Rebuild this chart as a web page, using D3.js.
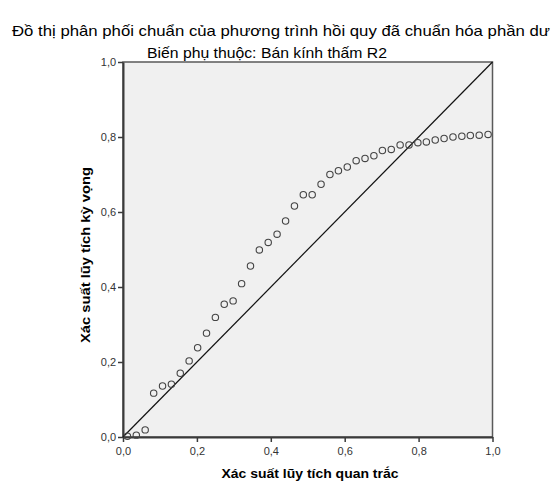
<!DOCTYPE html>
<html>
<head>
<meta charset="utf-8">
<script src="https://cdn.jsdelivr.net/npm/d3@7/dist/d3.min.js"></script>
<style>
  html, body { margin: 0; padding: 0; background: #fff; }
  svg { display: block; font-family: "Liberation Sans", Arial, sans-serif; }
</style>
</head>
<body>
<svg id="chart" width="552" height="482"></svg>
<script>
// Normal P-P plot of regression standardized residuals
const titleLines = [
  "Đồ thị phân phối chuẩn của phương trình hồi quy đã chuẩn hóa phần dư",
  "Biến phụ thuộc: Bán kính thấm R2"
];
const xTitle = "Xác suất lũy tích quan trắc";
const yTitle = "Xác suất lũy tích kỳ vọng";
const tickValues = [0, 0.2, 0.4, 0.6, 0.8, 1.0];

// Observed cumulative probability: (i - 0.5) / n for n = 42 cases
const observed = [
  0.012, 0.036, 0.060, 0.083, 0.107, 0.131, 0.155, 0.179, 0.202, 0.226,
  0.250, 0.274, 0.298, 0.321, 0.345, 0.369, 0.393, 0.417, 0.440, 0.464,
  0.488, 0.512, 0.536, 0.560, 0.583, 0.607, 0.631, 0.655, 0.679, 0.702,
  0.726, 0.750, 0.774, 0.798, 0.821, 0.845, 0.869, 0.893, 0.917, 0.940,
  0.964, 0.988
];
// Expected cumulative probability
const expected = [
  0.002, 0.005, 0.019, 0.117, 0.136, 0.141, 0.170, 0.203, 0.238, 0.277,
  0.319, 0.354, 0.363, 0.409, 0.456, 0.499, 0.519, 0.541, 0.576, 0.616,
  0.646, 0.646, 0.674, 0.700, 0.710, 0.720, 0.737, 0.743, 0.750, 0.764,
  0.767, 0.779, 0.779, 0.785, 0.787, 0.792, 0.796, 0.800, 0.802, 0.804,
  0.805, 0.807
];

const svg = d3.select("#chart");
const x = d3.scaleLinear().domain([0, 1]).range([123, 492.5]);
const y = d3.scaleLinear().domain([0, 1]).range([437, 62]);
const fmt = d => d3.format(".1f")(d).replace(".", ",");

// Titles
svg.append("text").attr("x", 12).attr("y", 36)
  .attr("font-size", 15).attr("fill", "#000")
  .attr("textLength", 538).attr("lengthAdjust", "spacingAndGlyphs")
  .text(titleLines[0]);
svg.append("text").attr("x", 147).attr("y", 58)
  .attr("font-size", 15).attr("fill", "#000")
  .attr("textLength", 240).attr("lengthAdjust", "spacingAndGlyphs")
  .text(titleLines[1]);

// Plot background
svg.append("rect")
  .attr("x", x(0)).attr("y", y(1))
  .attr("width", x(1) - x(0)).attr("height", y(0) - y(1))
  .attr("fill", "#f0f0f0").attr("stroke", "#5a5a5a").attr("stroke-width", 1.5);

// Axes
const xAxis = d3.axisBottom(x).tickValues(tickValues).tickFormat(fmt).tickSize(5).tickSizeOuter(0);
const yAxis = d3.axisLeft(y).tickValues(tickValues).tickFormat(fmt).tickSize(5).tickSizeOuter(0);

const gx = svg.append("g").attr("transform", `translate(0,${y(0)})`).call(xAxis);
const gy = svg.append("g").attr("transform", `translate(${x(0)},0)`).call(yAxis);
[gx, gy].forEach(g => {
  g.select(".domain").attr("stroke", "#3a3a3a").attr("stroke-width", 2);
  g.selectAll(".tick line").attr("stroke", "#3a3a3a").attr("stroke-width", 1.5);
  g.selectAll(".tick text").attr("fill", "#333").attr("font-size", 11)
    .attr("font-family", "'Liberation Sans', Arial, sans-serif");
});
gx.selectAll(".tick text").attr("dy", "0.9em");
gy.selectAll(".tick text").attr("dx", "0.1em");

// Reference diagonal
svg.append("line")
  .attr("x1", x(0)).attr("y1", y(0)).attr("x2", x(1)).attr("y2", y(1))
  .attr("stroke", "#111").attr("stroke-width", 1.2);

// Points
svg.append("g").selectAll("circle")
  .data(observed.map((o, i) => [o, expected[i]]))
  .join("circle")
  .attr("cx", d => x(d[0])).attr("cy", d => y(d[1])).attr("r", 3.2)
  .attr("fill", "none").attr("stroke", "#444").attr("stroke-width", 1.1);

// Axis titles
svg.append("text").attr("x", 310).attr("y", 478).attr("text-anchor", "middle")
  .attr("font-size", 13.5).attr("font-weight", "bold").attr("fill", "#000")
  .attr("textLength", 177).attr("lengthAdjust", "spacingAndGlyphs")
  .text(xTitle);
svg.append("text").attr("transform", "translate(90,255) rotate(-90)")
  .attr("text-anchor", "middle").attr("font-size", 13.5).attr("font-weight", "bold")
  .attr("fill", "#000").attr("textLength", 176).attr("lengthAdjust", "spacingAndGlyphs")
  .text(yTitle);
</script>
</body>
</html>
